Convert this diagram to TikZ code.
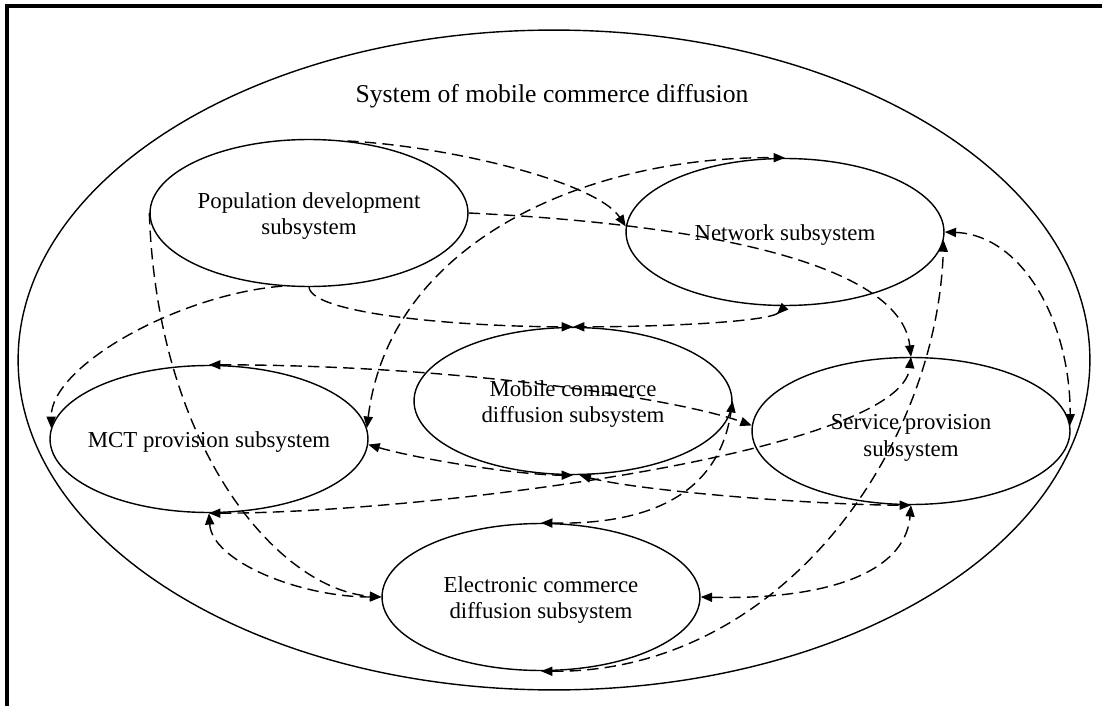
\documentclass[tikz,border=0pt]{standalone}
\usepackage{fontspec}
\setmainfont{Liberation Serif}
\usetikzlibrary{shapes.geometric,arrows.meta}
\tikzset{
  rtip/.tip={Triangle[reversed,length=6.5pt,width=5.2pt]},
}
\begin{document}
\begin{tikzpicture}[x=0.02cm,y=-0.02cm,
  sub/.style={ellipse,draw,line width=0.8pt,minimum width=6.36cm,
    minimum height=2.94cm,inner sep=0pt},
  txt/.style={font=\fontsize{13}{15.3}\selectfont,align=center,yshift=-0.06cm},
  conn/.style={line width=0.8pt,dash pattern=on 6.5pt off 3.5pt},
  >={Triangle[length=6.5pt,width=5.2pt]}]
\useasboundingbox (0,0) rectangle (1102,706);

% page frame (left and top rules)
\draw[line width=2.4pt] (7,706) -- (7,6) -- (1102,6);

% enclosing system
\node[ellipse,draw,line width=0.8pt,minimum width=21.44cm,minimum height=13.2cm,inner sep=0pt] (sys) at (554,360) {};
\node[font=\fontsize{14.6}{17}\selectfont] (title) at (552,96) {System of mobile commerce diffusion};

% subsystems
\node[sub,label={[txt]center:Population development\\subsystem}] (pop) at (309,213) {};
\node[sub,label={[txt]center:Network subsystem}] (net) at (785,232) {};
\node[sub,label={[txt]center:Mobile commerce\\diffusion subsystem}] (mob) at (573,401) {};
\node[sub,label={[txt]center:MCT provision subsystem}] (mct) at (209,439) {};
\node[sub,label={[txt,yshift=-0.08cm]center:Service provision\\subsystem}] (srv) at (911,431) {};
\node[sub,label={[txt]center:Electronic commerce\\diffusion subsystem}] (ec) at (541,597) {};

% interactions
\draw[conn,->] (pop.62) .. controls +(100,5) and +(-30,-45) .. (net.178);
\draw[conn,->] (pop.east) .. controls +(250,12) and +(-10,-90) .. (srv.north);
\draw[conn,<->] (mct.4) .. controls +(23,-188) and +(-195,-2) .. (net.north);
\draw[conn,->] (pop.south) .. controls +(3,28) and +(-103,0) .. (mob.north);
\draw[conn,rtip->] (net.south) .. controls +(-15,15) and +(100,0) .. (mob.north);
\draw[conn,->] (pop.250) .. controls +(-102,8) and +(0,-63) .. (mct.176);
\draw[conn,<->] (mct.north) .. controls +(250,0) and +(-72,-26) .. (srv.178);
\draw[conn,<->] (ec.north) .. controls +(99,2) and +(-15,99) .. (mob.east);
\draw[conn,<->] (mct.-2) .. controls +(52,15) and +(-53,0) .. (mob.south);
\draw[conn,<->] (mob.-85) .. controls +(60,16) and +(-91,0) .. (srv.south);
\draw[conn,<->] (ec.east) .. controls +(120,3) and +(-6,70) .. (srv.south);
\draw[conn,<->] (mct.south) .. controls +(3,48) and +(-82,0) .. (ec.west);
\draw[conn,<->] (mct.south) .. controls +(211,0) and +(-11,97) .. (srv.north);
\draw[conn,<->] (ec.south) .. controls +(239,2) and +(-7,210) .. (net.-3);
\draw[conn,<->] (net.east) .. controls +(77,3) and +(0,-105) .. (srv.2);
\draw[conn,->] (pop.west) .. controls +(8,237) and +(-102,-7) .. (ec.west);
\end{tikzpicture}
\end{document}
